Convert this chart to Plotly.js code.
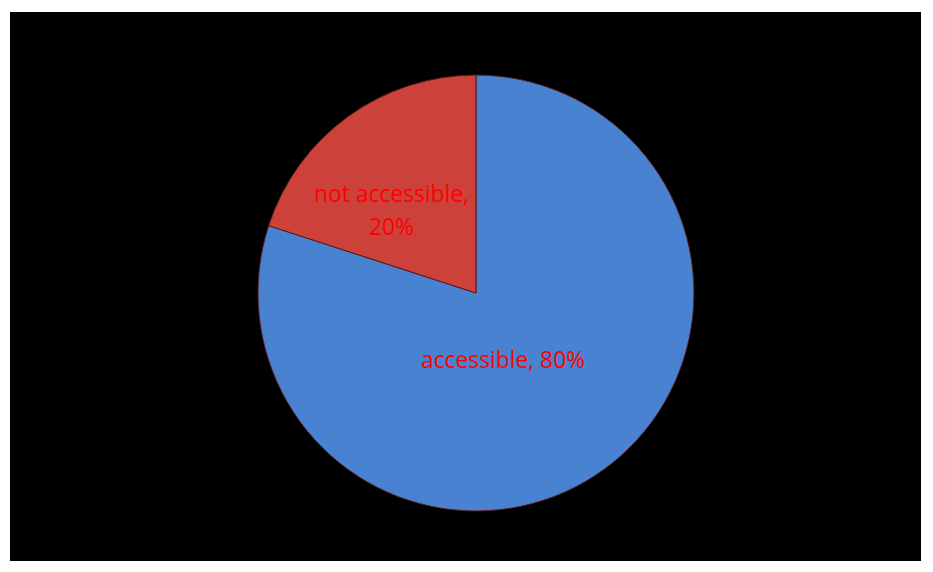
<!DOCTYPE html>
<html>
<head>
<meta charset="utf-8">
<script src="https://cdn.plot.ly/plotly-3.0.1.min.js"></script>
<style>html,body{margin:0;padding:0;background:#fff;}#chart{width:933px;height:572px;}</style>
</head>
<body>
<div id="chart"></div>
<script>
var categories = ["accessible", "not accessible"];
var values = [80, 20];
var sliceColors = ["#4882D0", "#CC423B"];

var total = values.reduce(function (a, b) { return a + b; }, 0);
var pctText = values.map(function (v) { return Math.round(v / total * 100) + "%"; });

var trace = {
  type: "pie",
  labels: categories,
  values: values,
  sort: false,
  direction: "clockwise",
  rotation: 0,
  marker: { colors: sliceColors, line: { color: "#5a1a1a", width: 1 } },
  textinfo: "none",
  hoverinfo: "label+percent",
  showlegend: false,
  domain: { x: [0.2765, 0.7438], y: [0.1066, 0.8689] }
};

var labelFont = { color: "#FF0000", size: 22.8, family: "Open Sans, sans-serif" };

var layout = {
  width: 933,
  height: 572,
  margin: { l: 0, r: 0, t: 0, b: 0 },
  paper_bgcolor: "#ffffff",
  showlegend: false,
  shapes: [{
    type: "rect", xref: "paper", yref: "paper", layer: "below",
    x0: 10 / 933, x1: 921 / 933, y0: 11 / 572, y1: 560 / 572,
    fillcolor: "#000000", line: { width: 0 }
  }],
  annotations: [
    { xref: "paper", yref: "paper", x: 503 / 933, y: (572 - 359) / 572, text: categories[0] + ", " + pctText[0],
      showarrow: false, font: labelFont, xanchor: "center", yanchor: "middle" },
    { xref: "paper", yref: "paper", x: 391 / 933, y: (572 - 193) / 572, text: categories[1] + ",",
      showarrow: false, font: labelFont, xanchor: "center", yanchor: "middle" },
    { xref: "paper", yref: "paper", x: 391 / 933, y: (572 - 226) / 572, text: pctText[1],
      showarrow: false, font: labelFont, xanchor: "center", yanchor: "middle" }
  ]
};

Plotly.newPlot("chart", [trace], layout, { displayModeBar: false, staticPlot: true });
</script>
</body>
</html>
